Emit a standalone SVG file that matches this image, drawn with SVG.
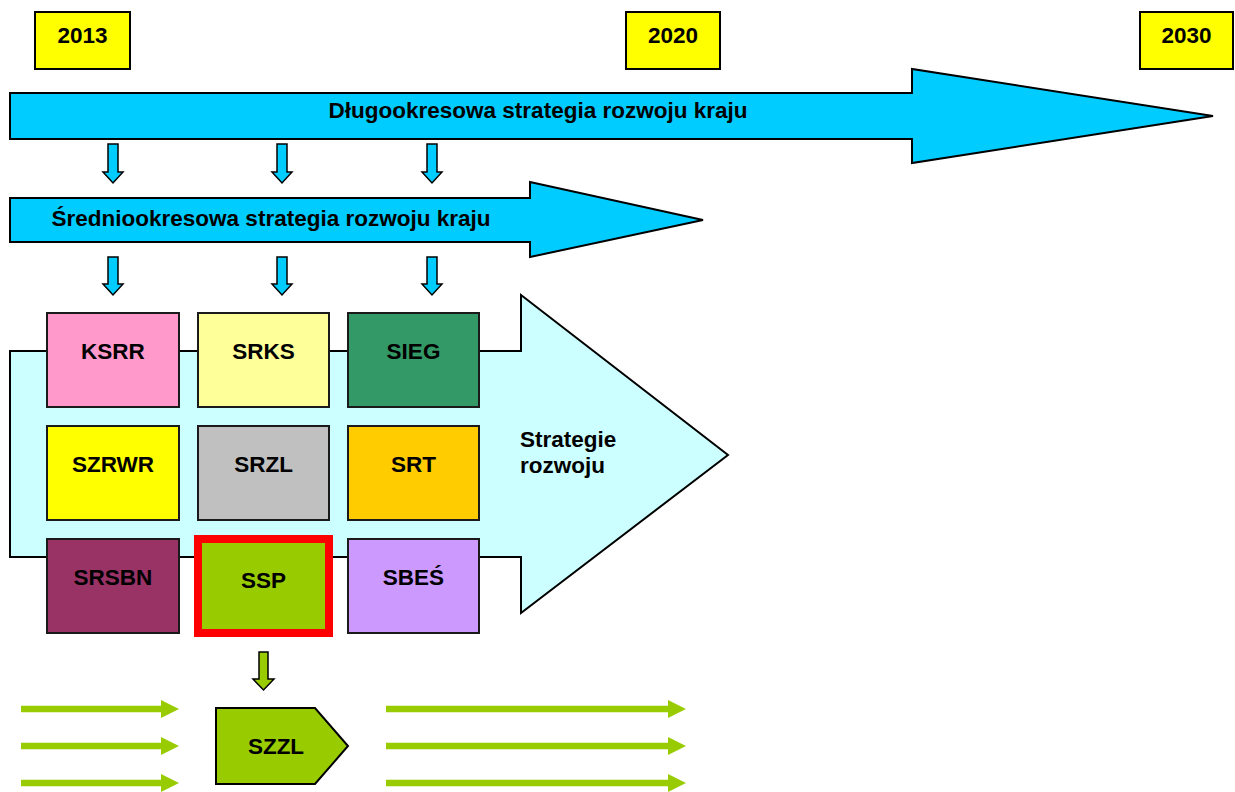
<svg xmlns="http://www.w3.org/2000/svg" width="1235" height="792" viewBox="0 0 1235 792">
<style>
text{font-family:"Liberation Sans",Arial,sans-serif;font-weight:bold;font-size:22.5px;fill:#000;text-anchor:middle}
.yr{fill:#FFFF00;stroke:#000;stroke-width:2}
.big{fill:#00CCFF;stroke:#000;stroke-width:2;stroke-linejoin:miter}
.box{stroke:#1a1a1a;stroke-width:2}
.dn{fill:#00CCFF;stroke:#000;stroke-width:1.5}
.gl{stroke:#99CC00;stroke-width:6.5;fill:none}
.gh{fill:#99CC00;stroke:none}
</style>
<rect width="1235" height="792" fill="#fff"/>
<g id="year-2013"><rect class="yr" x="35" y="12" width="95" height="57"/><text x="82.5" y="43">2013</text></g>
<g id="year-2020"><rect class="yr" x="626" y="12" width="94" height="57"/><text x="673" y="43">2020</text></g>
<g id="year-2030"><rect class="yr" x="1140" y="12" width="93" height="57"/><text x="1186.5" y="43">2030</text></g>
<g id="long-term"><path class="big" d="M10 93 H912 V69 L1213 116 L912 163 V139 H10 Z"/><text x="538" y="118">Długookresowa strategia rozwoju kraju</text></g>
<g id="mid-term"><path class="big" d="M10 198 H530 V182 L703 220 L530 257 V242 H10 Z"/><text x="271" y="226">Średniookresowa strategia rozwoju kraju</text></g>
<g id="strategie"><path d="M10 351 H521 V295 L728 455 L521 613 V557 H10 Z" fill="#CCFFFF" stroke="#000" stroke-width="2"/><text x="520" y="447" style="text-anchor:start">Strategie</text><text x="520" y="473" style="text-anchor:start">rozwoju</text></g>
<g id="KSRR"><rect class="box" x="47" y="313" width="132" height="94" fill="#FF99CC"/><text x="113" y="359">KSRR</text></g>
<g id="SRKS"><rect class="box" x="198" y="313" width="131" height="94" fill="#FFFF99"/><text x="263.5" y="359">SRKS</text></g>
<g id="SIEG"><rect class="box" x="348" y="313" width="131" height="94" fill="#339966"/><text x="413.5" y="359">SIEG</text></g>
<g id="SZRWR"><rect class="box" x="47" y="426" width="132" height="94" fill="#FFFF00"/><text x="113" y="472">SZRWR</text></g>
<g id="SRZL"><rect class="box" x="198" y="426" width="131" height="94" fill="#C0C0C0"/><text x="263.5" y="472">SRZL</text></g>
<g id="SRT"><rect class="box" x="348" y="426" width="131" height="94" fill="#FFCC00"/><text x="413.5" y="472">SRT</text></g>
<g id="SRSBN"><rect class="box" x="47" y="539" width="132" height="94" fill="#993366"/><text x="113" y="585">SRSBN</text></g>
<g id="SSP"><rect x="198" y="539" width="131" height="94" fill="#99CC00" stroke="#FF0000" stroke-width="8"/><text x="263.5" y="588">SSP</text></g>
<g id="SBES"><rect class="box" x="348" y="539" width="131" height="94" fill="#CC99FF"/><text x="413.5" y="585">SBEŚ</text></g>
<g id="SZZL"><path d="M216 708 H315 L348 746 L315 784 H216 Z" fill="#99CC00" stroke="#000" stroke-width="2"/><text x="276" y="754">SZZL</text></g>
<g id="connectors">
<path class="dn" d="M108 144 H118 V172 H123 L113 183 L103 172 H108 Z"/>
<path class="dn" d="M277 144 H287 V172 H292 L282 183 L272 172 H277 Z"/>
<path class="dn" d="M427 144 H437 V172 H442 L432 183 L422 172 H427 Z"/>
<path class="dn" d="M108 257 H118 V284 H123 L113 295 L103 284 H108 Z"/>
<path class="dn" d="M277 257 H287 V284 H292 L282 295 L272 284 H277 Z"/>
<path class="dn" d="M427 257 H437 V284 H442 L432 295 L422 284 H427 Z"/>
<path d="M259 652 H268 V679 H274 L263.5 690 L253 679 H259 Z" fill="#99CC00" stroke="#000" stroke-width="1.5"/>
<line class="gl" x1="21" y1="709" x2="163" y2="709"/><path class="gh" d="M161 700 L179 709 L161 718 Z"/>
<line class="gl" x1="21" y1="746" x2="163" y2="746"/><path class="gh" d="M161 737 L179 746 L161 755 Z"/>
<line class="gl" x1="21" y1="783" x2="163" y2="783"/><path class="gh" d="M161 774 L179 783 L161 792 Z"/>
<line class="gl" x1="386" y1="709" x2="670" y2="709"/><path class="gh" d="M668 700 L686 709 L668 718 Z"/>
<line class="gl" x1="386" y1="746" x2="670" y2="746"/><path class="gh" d="M668 737 L686 746 L668 755 Z"/>
<line class="gl" x1="386" y1="783" x2="670" y2="783"/><path class="gh" d="M668 774 L686 783 L668 792 Z"/>
</g>
</svg>
